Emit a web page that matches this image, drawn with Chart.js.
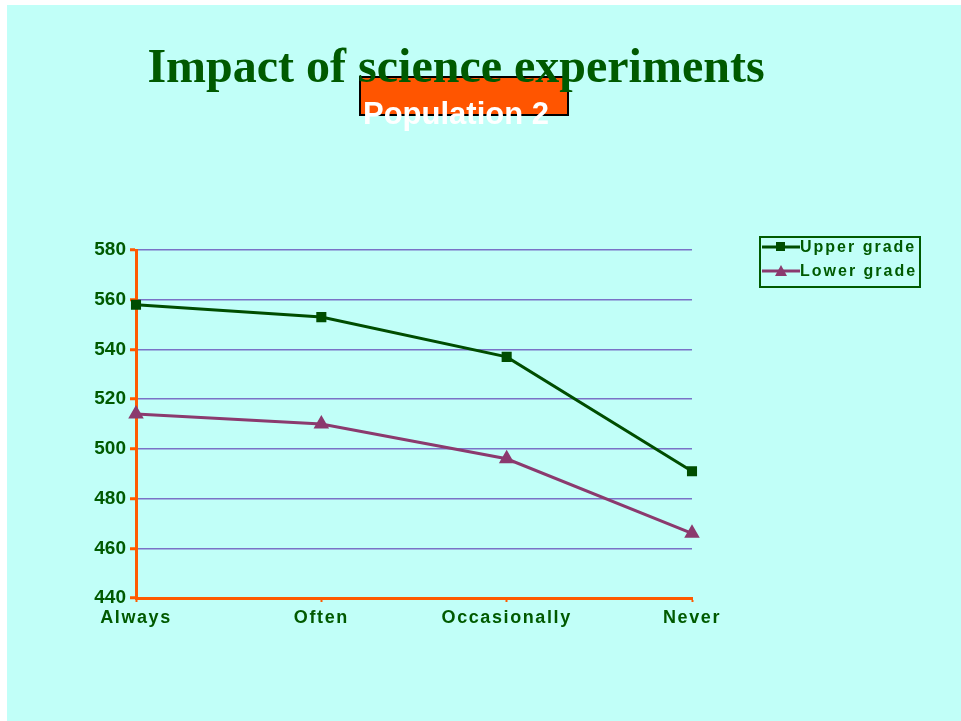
<!DOCTYPE html>
<html>
<head>
<meta charset="utf-8">
<script src="https://cdn.jsdelivr.net/npm/chart.js@4.4.0/dist/chart.umd.min.js"></script>
<style>
  html, body { margin: 0; padding: 0; background: #ffffff; }
  #wrap { position: absolute; left: 0; top: 0; width: 961px; height: 721px; }
</style>
</head>
<body>
<div id="wrap"><canvas id="line_chart"></canvas></div>
<script>
const categories = ['Always', 'Often', 'Occasionally', 'Never'];
const upperGrade = [558, 553, 537, 491];
const lowerGrade = [514, 510, 496, 466];
const yTicks = [440, 460, 480, 500, 520, 540, 560, 580];

const GREEN = '#005a00';
const ORANGE = '#ff5a00';

// พื้นหลัง + หัวเรื่อง + กล่อง Population 2
const slideDecor = {
    id: 'slideDecor',
    beforeDraw(chart) {
        const c = chart.ctx;
        c.save();
        c.fillStyle = '#c1fff8';
        c.fillRect(7, 5, chart.width - 7, chart.height - 5);
        // กล่องสีส้ม
        c.fillStyle = '#ff5500';
        c.fillRect(360, 77, 208, 38);
        c.strokeStyle = '#000000';
        c.lineWidth = 2;
        c.strokeRect(360, 77, 208, 38);
        c.restore();
    },
    afterDraw(chart) {
        const c = chart.ctx;
        c.save();
        c.letterSpacing = '0px';
        c.fillStyle = GREEN;
        c.font = "bold 48px 'Liberation Serif', serif";
        c.textAlign = 'center';
        c.textBaseline = 'alphabetic';
        c.fillText('Impact of science experiments', 456, 82);
        c.fillStyle = '#ffffff';
        c.font = "bold 31px 'Liberation Sans', Arial, sans-serif";
        c.fillText('Population 2', 456, 124);

        // legend
        const lx = 760, ly = 237, lw = 160, lh = 50;
        c.strokeStyle = GREEN;
        c.lineWidth = 2;
        c.strokeRect(lx, ly, lw, lh);
        chart.data.datasets.forEach((ds, i) => {
            const y = ly + 10 + i * 24;
            c.strokeStyle = ds.borderColor;
            c.lineWidth = 3;
            c.beginPath();
            c.moveTo(lx + 2, y);
            c.lineTo(lx + 40, y);
            c.stroke();
            c.fillStyle = ds.pointBackgroundColor;
            if (ds.pointStyle === 'rect') {
                c.fillRect(lx + 16, y - 5, 9, 9);
            } else {
                c.beginPath();
                c.moveTo(lx + 21, y - 6);
                c.lineTo(lx + 27, y + 5);
                c.lineTo(lx + 15, y + 5);
                c.closePath();
                c.fill();
            }
            c.fillStyle = GREEN;
            c.font = "bold 16px 'Liberation Sans', Arial, sans-serif";
            c.letterSpacing = '2px';
            c.textAlign = 'left';
            c.textBaseline = 'middle';
            c.fillText(ds.label, lx + 40, y + 1);
            c.letterSpacing = '0px';
        });
        c.restore();
    }
};

const line_chart = new Chart(document.getElementById('line_chart').getContext('2d'), {
    type: 'line',
    data: {
        labels: categories,
        datasets: [{
            label: 'Upper grade',
            data: upperGrade,
            borderColor: '#004d00',
            backgroundColor: '#004d00',
            pointBackgroundColor: '#004d00',
            pointBorderColor: '#004d00',
            pointStyle: 'rect',
            pointRadius: 5,
            borderWidth: 3,
            tension: 0,
            clip: false
        }, {
            label: 'Lower grade',
            data: lowerGrade,
            borderColor: '#8b3a6e',
            backgroundColor: '#8b3a6e',
            pointBackgroundColor: '#8b3a6e',
            pointBorderColor: '#8b3a6e',
            pointStyle: 'triangle',
            pointRadius: 6,
            borderWidth: 3,
            tension: 0,
            clip: false
        }]
    },
    options: {
        responsive: true,
        maintainAspectRatio: false,
        animation: false,
        layout: {
            padding: { left: 0, right: 269, top: 250, bottom: 0 }
        },
        plugins: {
            legend: { display: false },
            title: { display: false },
            tooltip: { enabled: false }
        },
        scales: {
            x: {
                offset: false,
                grid: {
                    drawOnChartArea: false,
                    drawTicks: true,
                    tickLength: 4,
                    tickColor: ORANGE,
                    tickWidth: 2
                },
                border: { color: ORANGE, width: 3 },
                ticks: {
                    color: GREEN,
                    font: { family: "'Liberation Sans', Arial, sans-serif", size: 18, weight: 'bold' },
                    padding: 5,
                    maxRotation: 0,
                    autoSkip: false
                },
                afterFit: (scale) => { scale.height = 123; },
                // ระยะห่างตัวอักษรของป้ายแกน x
                afterUpdate: (scale) => {
                    if (scale._spaced) return;
                    const orig = scale.drawLabels.bind(scale);
                    scale.drawLabels = (area) => {
                        scale.ctx.letterSpacing = '1.6px';
                        orig(area);
                        scale.ctx.letterSpacing = '0px';
                    };
                    scale._spaced = true;
                }
            },
            y: {
                min: 440,
                max: 580,
                afterBuildTicks: (scale) => { scale.ticks = yTicks.map(v => ({ value: v })); },
                grid: {
                    color: '#7a72c6',
                    lineWidth: 1.5,
                    drawTicks: true,
                    tickLength: 6,
                    tickColor: ORANGE,
                    tickWidth: 3
                },
                border: { color: ORANGE, width: 3 },
                ticks: {
                    color: GREEN,
                    font: { family: "'Liberation Sans', Arial, sans-serif", size: 19, weight: 'bold' },
                    padding: 4
                },
                afterFit: (scale) => { scale.width = 136; }
            }
        }
    },
    plugins: [slideDecor]
});
</script>
</body>
</html>
